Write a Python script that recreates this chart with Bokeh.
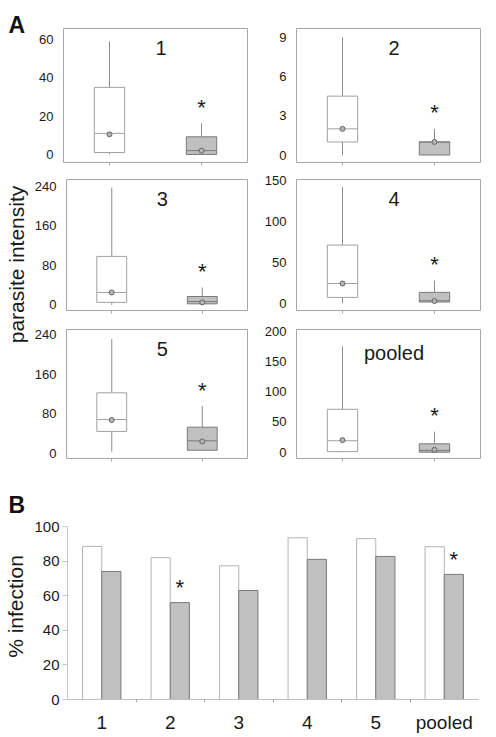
import numpy as np
from bokeh.plotting import figure
from bokeh.models import ColumnDataSource, Range1d, FixedTicker
from bokeh.layouts import row, column
from bokeh.core.properties import value
from bokeh.embed import file_html
from bokeh.resources import INLINE

FONT = "Liberation Sans"

# ---------------- data ----------------
groups = ["1", "2", "3", "4", "5", "pooled"]

# panel A: parasite intensity box plots (control = white, treated = grey)
control_min = [0, 0, 0, 0, 3, 0]
control_q1 = [1, 1, 5, 7, 44, 1]
control_median = [11, 2, 25, 24, 68, 19]
control_q3 = [35, 4.5, 98, 71, 122, 71]
control_max = [59, 9, 237, 142, 231, 175]
control_mean = [10.5, 2, 25, 24, 67, 20]

treated_min = [0, 0, 1, 0, 5, 0]
treated_q1 = [0, 0, 2, 1.3, 6, 0]
treated_median = [2, 1, 6.5, 3, 25, 3]
treated_q3 = [9.2, 1, 16.8, 13.2, 52.6, 13.9]
treated_max = [16.3, 2, 35, 27.6, 95, 34]
treated_mean = [2, 1, 5, 2.5, 23.7, 4]

intensity_ticks = [
    [0, 20, 40, 60],
    [0, 3, 6, 9],
    [0, 80, 160, 240],
    [0, 50, 100, 150],
    [0, 80, 160, 240],
    [0, 50, 100, 150, 200],
]

# panel B: % infection
infection_control = [88.5, 82, 77.3, 93.5, 93, 88.3]
infection_treated = [74, 56, 63, 81, 82.7, 72.3]
infection_signif = [False, True, False, False, False, True]
infection_ticks = [0, 20, 40, 60, 80, 100]

# ---------------- styling ----------------
y_limits = [(-4.2, 65.7), (-0.57, 9.67), (-11.5, 253.6),
            (-9, 151.2), (-10.7, 250), (-10.4, 203)]
FRAME = "#a6a6a6"
WHITE_LINE = "#a0a0a0"
GREY_FILL = "#c0c0c0"
GREY_LINE = "#7a7a7a"
WHISK = "#8c8c8c"
TXT = "#1a1a1a"
BOX_W = 0.33


def box_panel(i, width, height, left, right, top, bottom):
    p = figure(width=width, height=height, output_backend="svg",
               toolbar_location=None, x_range=Range1d(0.5, 2.5),
               y_range=Range1d(*y_limits[i]),
               min_border_left=left, min_border_right=right,
               min_border_top=top, min_border_bottom=bottom)
    p.grid.visible = False
    p.outline_line_color = FRAME
    p.outline_line_width = 1
    p.background_fill_color = "white"
    p.border_fill_color = "white"

    xs = np.array([1.0, 2.0])
    src = ColumnDataSource(dict(
        x=xs,
        x0=xs - BOX_W / 2, x1=xs + BOX_W / 2,
        lo=[control_min[i], treated_min[i]],
        q1=[control_q1[i], treated_q1[i]],
        med=[control_median[i], treated_median[i]],
        q3=[control_q3[i], treated_q3[i]],
        hi=[control_max[i], treated_max[i]],
        mean=[control_mean[i], treated_mean[i]],
        fill=["white", GREY_FILL],
        line=[WHITE_LINE, GREY_LINE],
    ))
    p.segment(x0="x", y0="q3", x1="x", y1="hi", source=src,
              line_color=WHISK, line_width=1)
    p.segment(x0="x", y0="lo", x1="x", y1="q1", source=src,
              line_color=WHISK, line_width=1)
    p.vbar(x="x", width=BOX_W, bottom="q1", top="q3", source=src,
           fill_color="fill", line_color="line", line_width=1)
    p.segment(x0="x0", y0="med", x1="x1", y1="med", source=src,
              line_color="line", line_width=1)
    p.scatter(x="x", y="mean", source=src, marker="circle", size=5,
              fill_color="#b4b4b4", line_color="#666666", line_width=1)

    # significance star above treated whisker
    p.text(x=[2.0], y=[treated_max[i]], text=["*"], text_align="center",
           text_baseline="alphabetic", y_offset=-16,
           text_font=value(FONT), text_font_size="22px", text_color=TXT)
    # panel name
    p.text(x=[1.56], y=[y_limits[i][1]], text=[groups[i]], text_align="center",
           text_baseline="top", y_offset=12,
           text_font=value(FONT), text_font_size="20px", text_color=TXT)

    p.xaxis.ticker = FixedTicker(ticks=[1, 2])
    p.xaxis.major_label_overrides = {1: "", 2: ""}
    p.xaxis.axis_line_color = None
    p.xaxis.major_tick_in = 0
    p.xaxis.major_tick_out = 3
    p.xaxis.major_tick_line_color = FRAME
    p.xaxis.minor_tick_line_color = None
    p.xaxis.major_label_text_font_size = "4px"
    p.xaxis.major_label_standoff = 0

    p.yaxis.ticker = FixedTicker(ticks=intensity_ticks[i])
    p.yaxis.axis_line_color = None
    p.yaxis.major_tick_line_color = None
    p.yaxis.minor_tick_line_color = None
    p.yaxis.major_label_standoff = 4
    p.yaxis.major_label_text_font = FONT
    p.yaxis.major_label_text_font_size = "13px"
    p.yaxis.major_label_text_color = TXT
    return p


rows_geom = [(170, 28, 8), (149, 9, 9), (149, 10, 10)]
panel_rows = []
for r, (h, t, b) in enumerate(rows_geom):
    left_p = box_panel(2 * r, 219, h, 32, 3, t, b)
    right_p = box_panel(2 * r + 1, 238, h, 46, 8, t, b)
    panel_rows.append(row(left_p, right_p))

# ---------------- panel B ----------------
pb = figure(width=457, height=269, output_backend="svg", toolbar_location=None,
            x_range=Range1d(0, len(groups)), y_range=Range1d(0, 100),
            min_border_left=33, min_border_right=10,
            min_border_top=58, min_border_bottom=38)
pb.grid.visible = False
pb.outline_line_color = None
BAR_W = 0.28
centers = np.arange(len(groups)) + 0.5
bsrc = ColumnDataSource(dict(
    xc=centers - BAR_W / 2, xt=centers + BAR_W / 2,
    control=infection_control, treated=infection_treated,
))
pb.vbar(x="xc", width=BAR_W, top="control", bottom=0, source=bsrc,
        fill_color="white", line_color="#b4b4b4", line_width=1)
pb.vbar(x="xt", width=BAR_W, top="treated", bottom=0, source=bsrc,
        fill_color=GREY_FILL, line_color=GREY_LINE, line_width=1)
sig_x = [c + BAR_W / 2 for c, s in zip(centers, infection_signif) if s]
sig_y = [v for v, s in zip(infection_treated, infection_signif) if s]
pb.text(x=sig_x, y=sig_y, text=["*"] * len(sig_x), text_align="center",
        text_baseline="alphabetic", y_offset=-15,
        text_font=value(FONT), text_font_size="22px", text_color=TXT)

pb.xaxis.ticker = FixedTicker(ticks=list(centers), minor_ticks=list(range(1, len(groups))))
pb.xaxis.major_label_overrides = {float(c): g for c, g in zip(centers, groups)}
pb.xaxis.axis_line_color = "#c0c0c0"
pb.xaxis.major_tick_line_color = None
pb.xaxis.major_tick_out = 0
pb.xaxis.major_tick_in = 0
pb.xaxis.minor_tick_line_color = "#a8a8a8"
pb.xaxis.minor_tick_out = 3
pb.xaxis.minor_tick_in = 0
pb.xaxis.major_label_standoff = 9
pb.xaxis.major_label_text_font = FONT
pb.xaxis.major_label_text_font_size = "19px"
pb.xaxis.major_label_text_color = TXT

pb.yaxis.ticker = FixedTicker(ticks=infection_ticks)
pb.yaxis.axis_line_color = "#c8c8c8"
pb.yaxis.major_tick_line_color = "#c8c8c8"
pb.yaxis.major_tick_out = 5
pb.yaxis.major_tick_in = 0
pb.yaxis.minor_tick_line_color = None
pb.yaxis.major_label_standoff = 3
pb.yaxis.major_label_text_font = FONT
pb.yaxis.major_label_text_font_size = "15px"
pb.yaxis.major_label_text_color = TXT

# ---------------- left strip with panel letters and axis titles ----------------
strip = figure(width=31, height=737, output_backend="svg", toolbar_location=None,
               x_range=Range1d(0, 31), y_range=Range1d(737, 0),
               min_border=0, min_border_left=0, min_border_right=0,
               min_border_top=0, min_border_bottom=0)
strip.axis.visible = False
strip.grid.visible = False
strip.outline_line_color = None
strip.text(x=[8, 8], y=[24, 504], text=["A", "B"], text_align="left",
           text_baseline="alphabetic", text_font=value(FONT),
           text_font_size="23px", text_font_style="bold", text_color="#111111")
strip.text(x=[16, 15], y=[264, 606], text=["parasite intensity", "% infection"],
           angle=np.pi / 2, text_align="center", text_baseline="middle",
           text_font=value(FONT), text_font_size="21px", text_color=TXT)

layout = row(strip, column(*panel_rows, pb))
open("out.html", "w").write(file_html(layout, INLINE))
